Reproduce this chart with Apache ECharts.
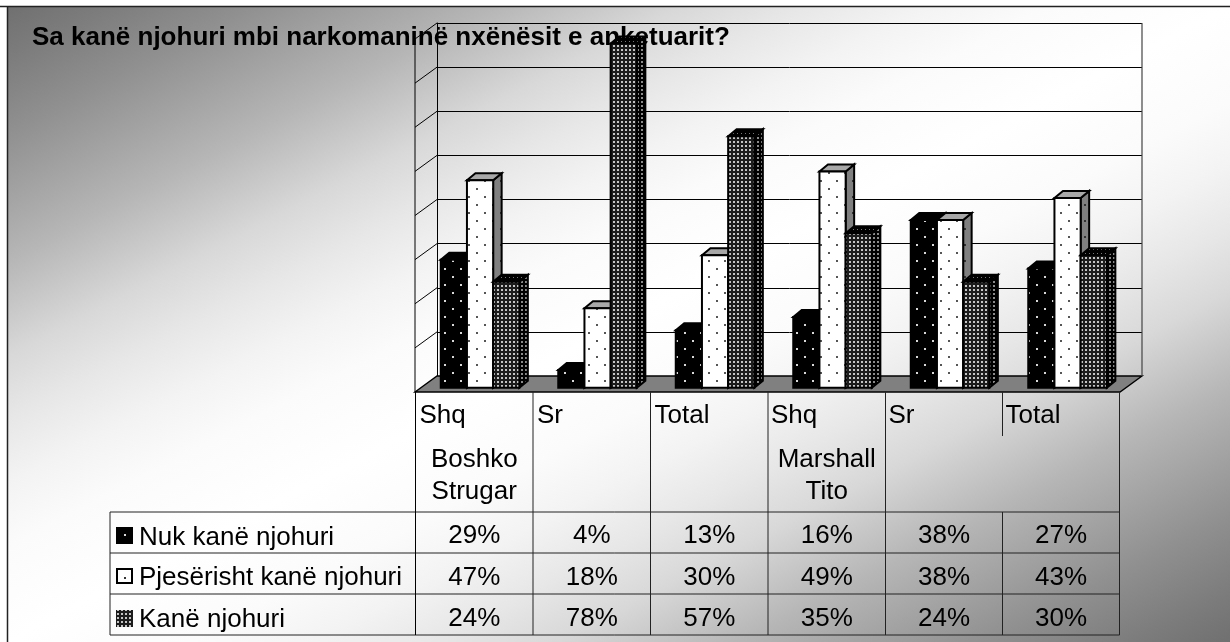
<!DOCTYPE html>
<html><head><meta charset="utf-8">
<style>html,body{margin:0;padding:0;background:#fff}#c{width:1230px;height:642px}</style>
<script src="https://cdn.jsdelivr.net/npm/echarts@6/dist/echarts.min.js"></script>
</head><body><div id="c"></div>
<script>
const titleText = 'Sa kanë njohuri mbi narkomaninë nxënësit e anketuarit?';
const categories = ['Shq','Sr','Total','Shq','Sr','Total'];
const schools = ['Boshko\nStrugar','','','Marshall\nTito','',''];
const seriesNames = ['Nuk kanë njohuri','Pjesërisht kanë njohuri','Kanë njohuri'];
const nukKane = [29,4,13,16,38,27];
const pjeserisht = [47,18,30,49,38,43];
const kane = [24,78,57,35,24,30];
const yTicks = [0,10,20,30,40,50,60,70,80];

function tile(size, bg, dots, dot, r){
  const c=document.createElement('canvas');c.width=c.height=size;
  const g=c.getContext('2d');g.fillStyle=bg;g.fillRect(0,0,size,size);
  g.fillStyle=dot;dots.forEach(p=>g.fillRect(p[0],p[1],r,r));
  return {image:c,repeat:'repeat'};
}
const stag=[[4,4],[12,12]];
const pBlack=tile(16,'#000',stag,'#d8d8d8',2);
const pWhite=tile(16,'#fff',stag,'#555',2);
const pWhiteSide=tile(16,'#808080',stag,'#333',2);
const pDark=tile(4,'#1c1c1c',[[1,1]],'#c4c4c4',2);
const pDarkSide=tile(4,'#000',[[1,1]],'#8a8a8a',2);
const pDarkTop=tile(4,'#000',[[1,1]],'#777',1);
const faces=[
  {front:pBlack,side:'#000',top:'#000'},
  {front:pWhite,side:pWhiteSide,top:'#a8a8a8'},
  {front:pDark,side:pDarkSide,top:pDarkTop}
];
const DX=8.5,DY=7,FRONT_X=22,FRONT_Y=11.7,BAR_W=26.2,LEAD=-55;
const LW=2;
function barSeries(idx,vals){
  return {type:'custom',name:seriesNames[idx],z:3+idx,silent:true,
    coordinateSystem:'cartesian2d',encode:{x:0,y:1},
    data:vals.map((v,i)=>[i,v]),
    renderItem(params,api){
      const c=api.coord([api.value(0),api.value(1)]);
      const b=api.coord([api.value(0),0]);
      const x0=c[0]+LEAD+idx*BAR_W, x1=x0+BAR_W;
      const y1=b[1]+FRONT_Y, y0=c[1]+FRONT_Y;
      const f=faces[idx];
      const s={stroke:'#000',lineWidth:LW,lineJoin:'miter'};
      return {type:'group',children:[
        {type:'polygon',shape:{points:[[x1,y1],[x1+DX,y1-DY],[x1+DX,y0-DY],[x1,y0]]},style:{...s,fill:f.side}},
        {type:'polygon',shape:{points:[[x0,y0],[x0+DX,y0-DY],[x1+DX,y0-DY],[x1,y0]]},style:{...s,fill:f.top}},
        {type:'rect',shape:{x:x0,y:y0,width:BAR_W,height:y1-y0},style:{...s,fill:f.front}}
      ]};
    }};
}
const wallSeries={type:'custom',z:1,silent:true,coordinateSystem:'cartesian2d',
  data:yTicks.map(v=>[0,v]),encode:{x:0,y:1},
  renderItem(params,api){
    const p=api.coord([0,api.value(1)]);
    const bw=api.size([1,0])[0];
    const bx=p[0]-bw/2;
    const line={stroke:'#000',lineWidth:1};
    const ch=[];
    if(api.value(1)===0){
      const R=bx+bw*6;
      ch.push({type:'polygon',shape:{points:[[bx-FRONT_X,p[1]+16],[bx,p[1]],[R,p[1]],[R-FRONT_X,p[1]+16]]},style:{fill:'#808080',stroke:'#000',lineWidth:1.4}});
    } else {
      ch.push({type:'line',shape:{x1:bx,y1:p[1],x2:bx-FRONT_X,y2:p[1]+16},style:line});
    }
    if(api.value(1)===80){
      const B=api.coord([0,0])[1];
      ch.push({type:'line',shape:{x1:bx-FRONT_X,y1:p[1]+16,x2:bx-FRONT_X,y2:B+16},style:line});
      ch.push({type:'line',shape:{x1:bx+bw*6,y1:p[1],x2:bx+bw*6,y2:B},style:{stroke:'#444',lineWidth:1.2}});
    }
    return {type:'group',children:ch};
  }};

const FS=26, FONT=FS+'px "Liberation Sans", Arial, sans-serif';
const MID=0.347*FS;
const T=[];
function txt(s,x,y,align,z){T.push({type:'text',z:z||6,silent:true,style:{text:s,x,y:y-MID,font:FONT,fill:'#000',textAlign:align||'left',textVerticalAlign:'middle'}});}
function ln(x1,y1,x2,y2,c,w){T.push({type:'line',z:2,silent:true,shape:{x1,y1,x2,y2},style:{stroke:c||'#222',lineWidth:w||1}});}
const colX=[415.5,533,650.5,768,885.5,1002.5,1119.5];
ln(110,512,1119.5,512);ln(110,553,1119.5,553);ln(110,594,1119.5,594);ln(110,635,1119.5,635);
ln(110,512,110,635);
ln(colX[0],392,colX[0],635,'#000');
[1,2,3,4,6].forEach(i=>ln(colX[i],392,colX[i],635));
ln(colX[5],392,colX[5],436);ln(colX[5],512,colX[5],635);
categories.forEach((c,i)=>{
  txt(c,colX[i]+(i>2?3:4),424.5);
  const cx=(colX[i]+colX[i+1])/2;
  if(schools[i]){const p=schools[i].split('\n');txt(p[0],cx,469,'center');txt(p[1],cx,501,'center');}
  txt(nukKane[i]+'%',cx,545,'center');
  txt(pjeserisht[i]+'%',cx,587,'center');
  txt(kane[i]+'%',cx,628,'center');
});
const baseY=[547,587,629];
seriesNames.forEach((n,i)=>txt(n,139,baseY[i]));
T.push({type:'rect',z:6,silent:true,shape:{x:116,y:527,width:17,height:17},style:{fill:'#000'}});
T.push({type:'rect',z:7,silent:true,shape:{x:124,y:534,width:2,height:2},style:{fill:'#ddd'}});
T.push({type:'rect',z:6,silent:true,shape:{x:117,y:569,width:15,height:14},style:{fill:'#fff',stroke:'#000',lineWidth:2}});
T.push({type:'rect',z:7,silent:true,shape:{x:124,y:577,width:2,height:2},style:{fill:'#333'}});
T.push({type:'rect',z:6,silent:true,shape:{x:116,y:610,width:17,height:17},style:{fill:pDark}});

const gradSteps=[[0,255],[0.15,251],[0.25,243],[0.35,231],[0.45,216],[0.6,182],[0.8,144],[0.92,124],[1,112]];
const gray=g=>'rgb('+g+','+g+','+g+')';
const gradStops=[...gradSteps.slice().reverse().map(s=>({offset:0.5-s[0]/2,color:gray(s[1])})),...gradSteps.slice(1).map(s=>({offset:0.5+s[0]/2,color:gray(s[1])}))];
const bg={type:'rect',z:-10,silent:true,shape:{x:8,y:7,width:1222,height:635},
  style:{fill:{type:'linear',global:true,x:359,y:-176,x2:879,y2:824,colorStops:gradStops}}};
const frame=[
 {type:'line',z:-9,silent:true,shape:{x1:0,y1:6.5,x2:1230,y2:6.5},style:{stroke:'#222',lineWidth:1.5}},
 {type:'line',z:-9,silent:true,shape:{x1:7.5,y1:6,x2:7.5,y2:642},style:{stroke:'#222',lineWidth:1.5}}
];
const title={type:'text',z:2,silent:true,style:{text:titleText,x:32,y:47-0.347*26,font:'bold 26px "Liberation Sans", Arial, sans-serif',fill:'#000',textVerticalAlign:'middle'}};

const chart=echarts.init(document.getElementById('c'));
chart.setOption({
  animation:false,
  grid:{left:437,right:88,top:23,bottom:266,containLabel:false},
  xAxis:{type:'category',data:categories,axisLine:{show:false},axisTick:{show:false},axisLabel:{show:false},splitLine:{show:false}},
  yAxis:{type:'value',min:0,max:80,interval:10,axisLine:{show:true,lineStyle:{color:'#000'}},axisTick:{show:false},axisLabel:{show:false},splitLine:{show:true,lineStyle:{color:'#000',width:1}}},
  graphic:{elements:[bg,...frame,title,...T]},
  series:[wallSeries,barSeries(0,nukKane),barSeries(1,pjeserisht),barSeries(2,kane)]
});
</script></body></html>
